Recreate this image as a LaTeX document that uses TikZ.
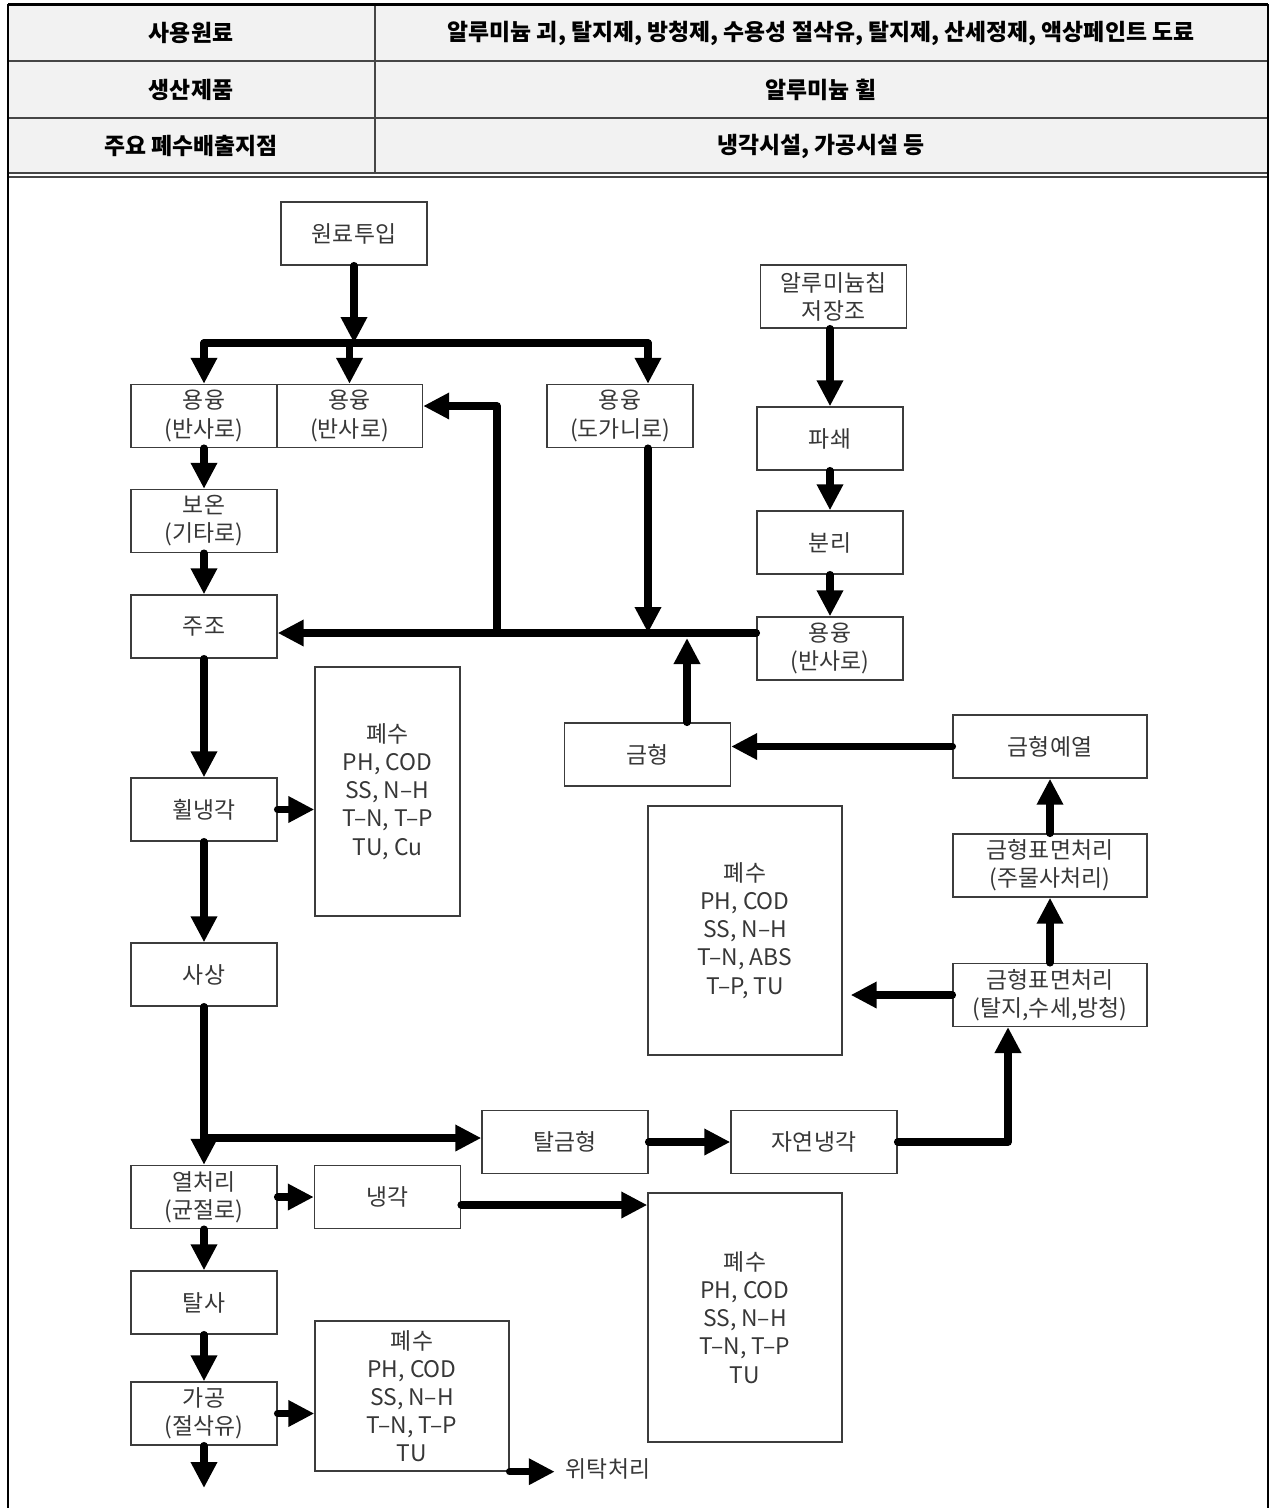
\documentclass[tikz,border=0pt]{standalone}
\usepackage{fontspec}
\setmainfont{Noto Sans CJK KR}
\usetikzlibrary{arrows.meta,calc}
\definecolor{headgray}{RGB}{242,242,242}
\definecolor{rulegray}{RGB}{70,70,70}
\definecolor{boxgray}{RGB}{60,60,60}
\definecolor{textgray}{RGB}{55,55,55}

\begin{document}
\begin{tikzpicture}[
    x=0.02cm, y=-0.02cm,
    font=\fontsize{13}{16}\selectfont,
    block/.style={
        rectangle,
        draw=boxgray,
        line width=0.8pt,
        text=textgray,
        align=center,
        minimum width=2.92cm,
        minimum height=1.26cm,
        inner sep=2pt
    },
    wideblock/.style={block, minimum width=3.32cm},
    surfblock/.style={block, minimum width=3.88cm},
    wastebox/.style={block, minimum width=3.88cm, minimum height=4.98cm},
    arrow/.style={-{Triangle[length=0.52cm, width=0.5cm]}, line width=0.15cm, line cap=round, line join=round},
    busline/.style={line width=0.15cm, line cap=round},
    headtext/.style={font=\bfseries\fontsize{13}{16}\selectfont},
    frame/.style={line width=0.06cm, draw=black},
    rule/.style={line width=0.6pt, draw=rulegray}
]
\useasboundingbox (0,0) rectangle (1270,1508);

% Header table
\fill[headgray] (8,4) rectangle (1268,174);
\draw[rule] (8,61) -- (1268,61);
\draw[rule] (8,118) -- (1268,118);
\draw[rule] (375,4) -- (375,173);
\draw[rule] (8,173) -- (1268,173);
\draw[rule] (8,177) -- (1268,177);
\draw[frame] (8,4) -- (1268,4);
\draw[frame] (8,4) -- (8,1508);
\draw[line width=0.04cm] (1268,4) -- (1268,1508);

\node[headtext] (matl) at (191,33) {사용원료};
\node[headtext] (matlval) at (821,33)
    {알루미늄 괴, 탈지제, 방청제, 수용성 절삭유, 탈지제, 산세정제, 액상페인트 도료};
\node[headtext] (prod) at (191,90) {생산제품};
\node[headtext] (prodval) at (821,90) {알루미늄 휠};
\node[headtext] (outl) at (191,146) {주요 폐수배출지점};
\node[headtext] (outlval) at (821,146) {냉각시설, 가공시설 등};

% Melting
\node[block] (raw) at (354,233.5) {원료투입};
\node[block] (meltA) at (204,416) {용융\\(반사로)};
\node[block] (meltB) at (349.5,416) {용융\\(반사로)};
\node[block] (meltC) at (620,416) {용융\\(도가니로)};

\node[block] (chip) at (833.5,296.5) {알루미늄칩\\저장조};
\node[block] (crush) at (830,438.5) {파쇄};
\node[block] (sep) at (830,542.5) {분리};
\node[block] (meltD) at (830,648.5) {용융\\(반사로)};

% Main line
\node[block] (keep) at (204,521) {보온\\(기타로)};
\node[block] (cast) at (204,626.5) {주조};
\node[block] (cool) at (204,809.5) {휠냉각};
\node[block] (finish) at (204,974.5) {사상};
\node[block] (heat) at (204,1197) {열처리\\(균절로)};
\node[block] (quench) at (387.5,1197) {냉각};
\node[block] (desand) at (204,1302.5) {탈사};
\node[block] (machine) at (204,1413.5) {가공\\(절삭유)};

% Mold line
\node[wideblock] (demold) at (565,1142) {탈금형};
\node[wideblock] (aircool) at (814,1142) {자연냉각};
\node[wideblock] (mold) at (647.5,754.5) {금형};
\node[surfblock] (preheat) at (1050,746.5) {금형예열};
\node[surfblock] (surfA) at (1050,865.5) {금형표면처리\\(주물사처리)};
\node[surfblock] (surfB) at (1050,995) {금형표면처리\\(탈지,수세,방청)};

% Waste water
\node[wastebox, minimum width=2.9cm] (wasteA) at (387.5,791.5)
    {폐수\\PH, COD\\SS, N–H\\T–N, T–P\\TU, Cu};
\node[wastebox] (wasteB) at (745,930.5)
    {폐수\\PH, COD\\SS, N–H\\T–N, ABS\\T–P, TU};
\node[wastebox] (wasteC) at (745,1317.5)
    {폐수\\PH, COD\\SS, N–H\\T–N, T–P\\TU};
\node[wastebox, minimum height=3cm] (wasteD) at (412,1396)
    {폐수\\PH, COD\\SS, N–H\\T–N, T–P\\TU};
\node[text=textgray] (consign) at (608,1469) {위탁처리};

% Junctions
\coordinate (busL) at (204,343);
\coordinate (busR) at (648,343);
\coordinate (busM) at (648,633);
\coordinate (busB) at (497,633);
\coordinate (bendB) at (497,406);
\coordinate (moldup) at (687,638);
\coordinate (busS) at (204,1138);
\coordinate (surfin) at (1008,1027);
\coordinate (outlet) at (204,1488);
\coordinate (qout) at ($(quench.east)+(0,8)$);

% Feed to melting
\draw[busline] (busL) -- (busR);
\draw[arrow] (raw.south) -- (raw.south |- busL);
\draw[arrow] (busL) -- (meltA.north);
\draw[arrow] (meltB.north |- busL) -- (meltB.north);
\draw[arrow] (busR) -- (busR |- meltC.north);

% Return to casting
\draw[arrow] (busR |- meltC.south) -- (busM);
\draw[arrow] (meltD.west |- busM) -- (cast.east |- busM);
\draw[arrow] (busB) -- (bendB) -- (bendB -| meltB.east);
\draw[arrow] (moldup |- mold.north) -- (moldup);

\draw[arrow] (chip.south -| crush.north) -- (crush.north);
\draw[arrow] (crush) -- (sep);
\draw[arrow] (sep) -- (meltD);

% Main line
\draw[arrow] (meltA) -- (keep);
\draw[arrow] (keep) -- (cast);
\draw[arrow] (cast) -- (cool);
\draw[arrow] (cool.east) -- (cool.east -| wasteA.west);
\draw[arrow] (cool) -- (finish);
\draw[arrow] (finish) -- (heat);
\draw[arrow] (busS) -- (busS -| demold.west);
\draw[arrow] (heat) -- (quench);
\draw[arrow] (qout) -- (qout -| wasteC.west);
\draw[arrow] (heat) -- (desand);
\draw[arrow] (desand) -- (machine);
\draw[arrow] (machine.east) -- (machine.east -| wasteD.west);
\draw[arrow] (machine) -- (outlet);
\draw[arrow, shorten >=0.1cm] (wasteD.south east) -- (wasteD.south east -| consign.west);

% Mold line
\draw[arrow] (demold) -- (aircool);
\draw[arrow] (aircool.east) -| (surfin);
\draw[arrow, shorten >=0.16cm] (surfB.west) -- (surfB.west -| wasteB.east);
\draw[arrow] (surfB) -- (surfA);
\draw[arrow] (surfA) -- (preheat);
\draw[arrow] (preheat.west) -- (preheat.west -| mold.east);

\end{tikzpicture}
\end{document}
